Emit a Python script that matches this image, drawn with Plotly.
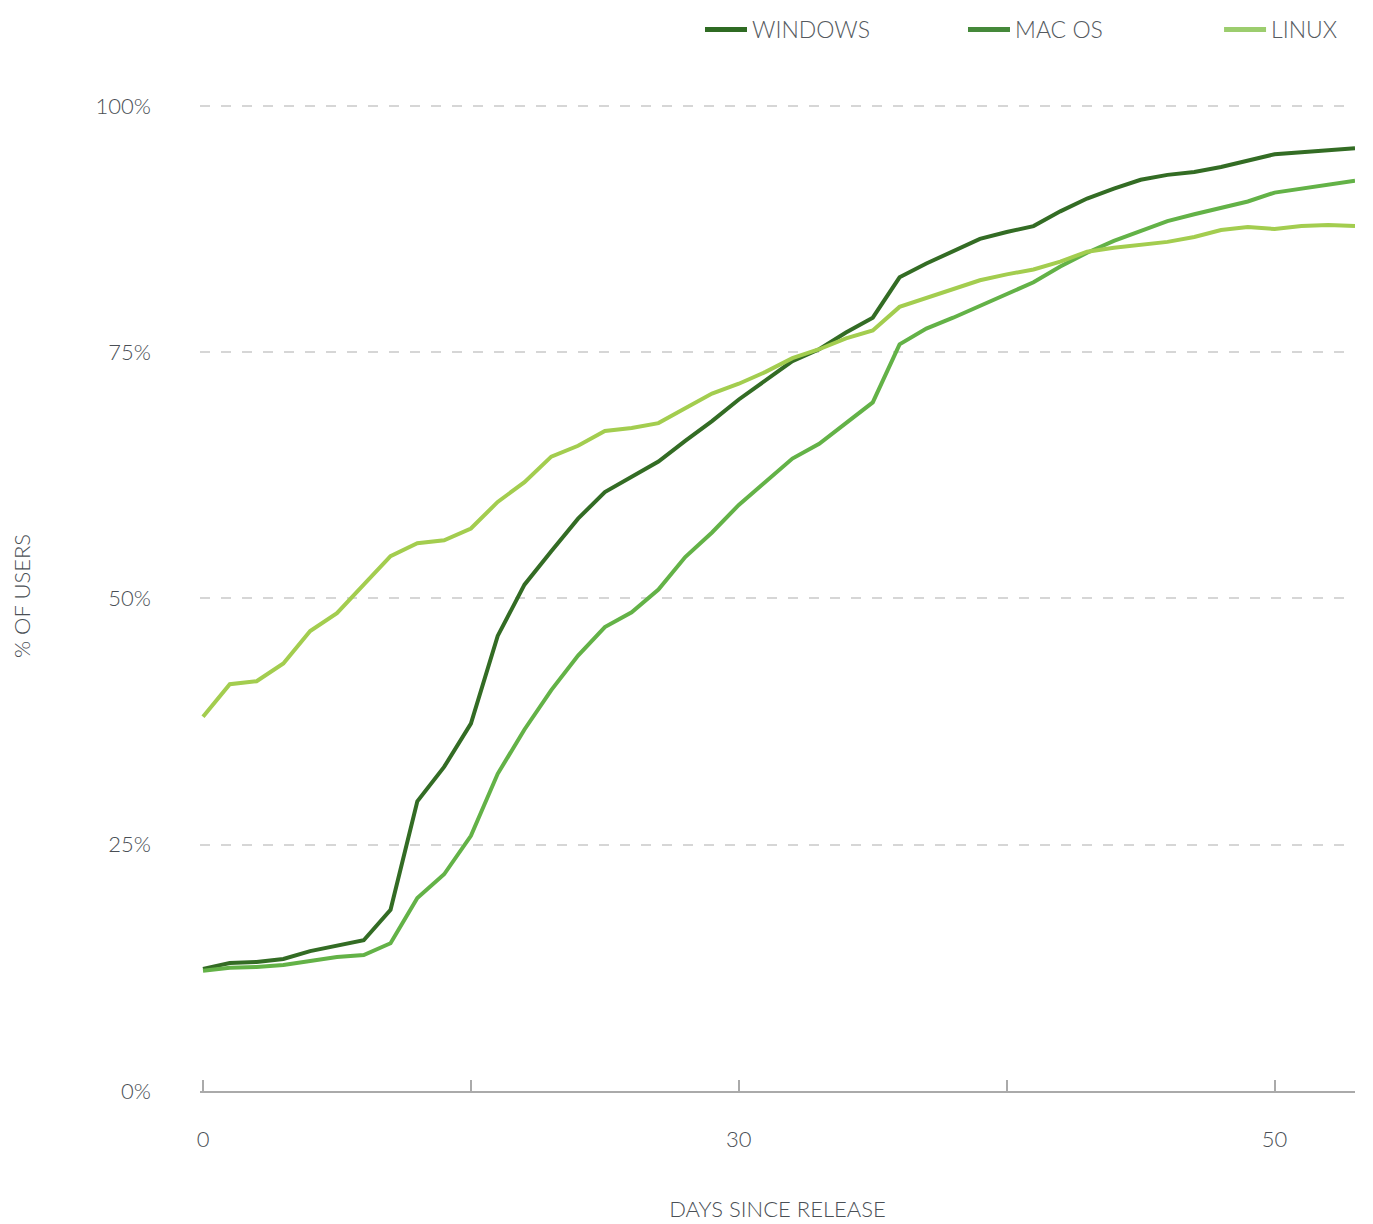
import plotly.graph_objects as go

days = list(range(44))

windows = [12.4, 13.0, 13.1, 13.4, 14.2, 14.8, 15.3, 18.4, 29.4, 32.9, 37.3, 46.2, 51.4, 54.8,
           58.1, 60.8, 62.3, 63.9, 66.0, 68.0, 70.2, 72.2, 74.1, 75.3, 77.0, 78.5, 82.6, 84.0,
           85.2, 86.5, 87.2, 87.8, 89.3, 90.6, 91.6, 92.5, 93.0, 93.3, 93.8, 94.4, 95.1, 95.3,
           95.5, 95.7]
macos = [12.2, 12.5, 12.6, 12.8, 13.2, 13.6, 13.8, 15.0, 19.6, 22.0, 25.9, 32.2, 36.7, 40.7,
         44.2, 47.1, 48.6, 50.9, 54.2, 56.7, 59.5, 61.8, 64.2, 65.7, 67.8, 69.9, 75.8, 77.4,
         78.5, 79.7, 81.0, 82.1, 83.7, 85.1, 86.3, 87.3, 88.3, 89.0, 89.6, 90.3, 91.2, 91.6,
         92.0, 92.4]
linux = [38.0, 41.3, 41.6, 43.4, 46.7, 48.5, 51.4, 54.3, 55.6, 55.9, 57.1, 59.8, 61.8, 64.4,
         65.5, 67.0, 67.3, 67.8, 69.3, 70.8, 71.8, 73.0, 74.4, 75.3, 76.4, 77.2, 79.6, 80.5,
         81.3, 82.3, 82.9, 83.4, 84.2, 85.2, 85.6, 85.9, 86.2, 86.7, 87.4, 87.7, 87.5, 87.8,
         87.9, 87.8]

series_names = ["WINDOWS", "MAC OS", "LINUX"]
line_colors = ["#336c24", "#63b247", "#a3cd4f"]
legend_colors = ["#2f6b23", "#45893a", "#9ccd6e"]

x_tickvals = [0, 10, 20, 30, 40]
x_ticktext = ["0", "", "30", "", "50"]
y_tickvals = [0, 25, 50, 75, 100]
y_ticktext = ["0%", "25%", "50%", "75%", "100%"]

FONT = "Lato"
TXT = "#4a4f55"
LEG_TXT = "#555a60"

fig = go.Figure()
for name, vals, lc in zip(series_names, [windows, macos, linux], line_colors):
    fig.add_trace(go.Scatter(x=days, y=vals, mode="lines", name=name,
                             line=dict(color=lc, width=4), showlegend=False,
                             hoverinfo="x+y+name"))
legend_ids = ["legend", "legend2", "legend3"]
for name, c, lid in zip(series_names, legend_colors, legend_ids):
    fig.add_trace(go.Scatter(x=[None], y=[None], mode="lines", name=name,
                             line=dict(color=c, width=5), showlegend=True, legend=lid))

legend_x = [0.4329, 0.6606, 0.8823]
leg_common = dict(orientation="h", xanchor="left", yref="container", y=1.0, yanchor="top",
                  font=dict(family=FONT, size=23, color=LEG_TXT, weight=300),
                  itemwidth=42, bgcolor="rgba(0,0,0,0)")

fig.update_layout(
    width=1365, height=1216,
    margin=dict(l=192, r=18, t=93, b=133),
    plot_bgcolor="white", paper_bgcolor="white",
    font=dict(family=FONT, size=22, color=TXT, weight=300),
    legend=dict(x=legend_x[0], **leg_common),
    legend2=dict(x=legend_x[1], **leg_common),
    legend3=dict(x=legend_x[2], **leg_common),
    xaxis=dict(range=[-0.112, 43], tickvals=x_tickvals, ticktext=x_ticktext,
               showgrid=False, zeroline=False, showline=True, linecolor="#aaaaaa",
               linewidth=2, ticks="inside", ticklen=11, tickwidth=2, tickcolor="#aaaaaa",
               ticklabelstandoff=28, automargin=False,
               tickfont=dict(family=FONT, size=22, color=TXT, weight=300),
               title=dict(text="DAYS SINCE RELEASE", standoff=50,
                          font=dict(family=FONT, size=22, color=TXT, weight=300))),
    yaxis=dict(range=[0, 100.5], tickvals=y_tickvals, ticktext=y_ticktext,
               showgrid=True, gridcolor="#d6d6d6", gridwidth=2, griddash="10px,11px",
               zeroline=False, showline=False, ticks="", ticklabelstandoff=48,
               automargin=False,
               tickfont=dict(family=FONT, size=22, color=TXT, weight=300),
               title=dict(text="% OF USERS", standoff=60,
                          font=dict(family=FONT, size=22, color=TXT, weight=300))),
)

fig.write_html("out.html")
